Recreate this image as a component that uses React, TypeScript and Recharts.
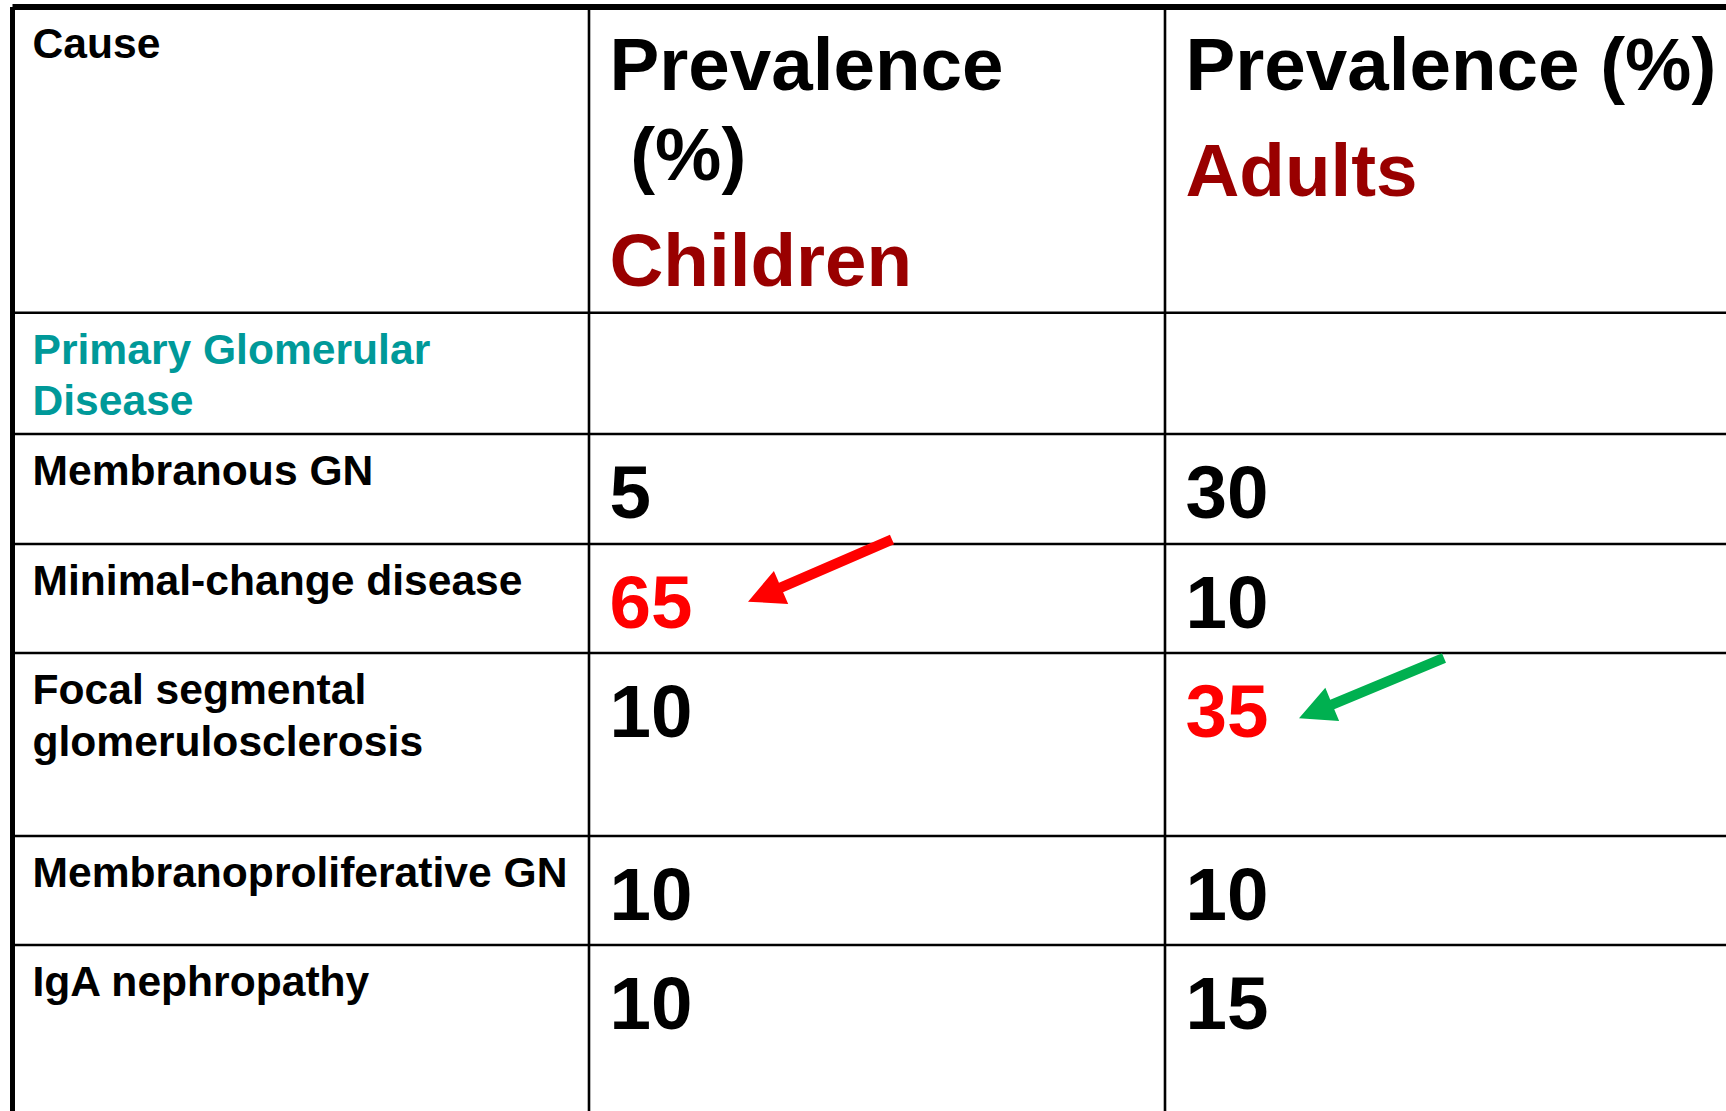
import React from 'react';
import { ScatterChart, Scatter, XAxis, YAxis, ReferenceLine } from 'recharts';

// ---------- data ----------
const causeHeader = 'Cause';
const sectionTitle = 'Primary Glomerular\nDisease';
const causes = [
  'Membranous GN',
  'Minimal-change disease',
  'Focal segmental\nglomerulosclerosis',
  'Membranoproliferative GN',
  'IgA nephropathy',
];
const groups = ['Children', 'Adults'];
const headerLines = [['Prevalence', ' (%)'], ['Prevalence (%)']];
const childrenPrevalence = [5, 65, 10, 10, 10];
const adultsPrevalence = [30, 10, 35, 10, 15];

// ---------- layout / style ----------
const W = 1726;
const H = 1111;
const LEFT = 12.5;
const TOP = 7;
const COL_W = [576.5, 576, 576];
const ROW_H = [305.7, 121.3, 110, 109, 183, 109, 170];
const FONT = "'Liberation Sans', Arial, Helvetica, sans-serif";
const BODY_SIZE = 42.6;
const BIG_SIZE = 74.6;
const GROUP_COLOR = '#990000';
const SECTION_COLOR = '#009999';
const HIGHLIGHT = '#FF0000';
const ARROWS = [
  { tail: [303, -4.6], tip: [159, 57.7], color: '#FF0000' },
  { tail: [279, 5], tip: [134, 65.3], color: '#00B050' },
];

const colLeft = COL_W.reduce<number[]>((a, w, i) => (a.push(i === 0 ? 0 : a[i - 1] + COL_W[i - 1]), a), []);
const rowTop = ROW_H.reduce<number[]>((a, h, i) => (a.push(i === 0 ? 0 : a[i - 1] + ROW_H[i - 1]), a), []);

const headerData = [
  { x: colLeft[0], y: rowTop[0], kind: 'cause' },
  { x: colLeft[1], y: rowTop[0], kind: 'group', g: 0 },
  { x: colLeft[2], y: rowTop[0], kind: 'group', g: 1 },
];
const sectionData = [{ x: colLeft[0], y: rowTop[1], text: sectionTitle }];
const causeData = causes.map((c, i) => ({ x: colLeft[0], y: rowTop[i + 2], text: c }));
const makeSeries = (vals: number[], g: number) => {
  const mx = Math.max(...vals);
  return vals.map((v, i) => ({ x: colLeft[g + 1], y: rowTop[i + 2], value: v, isMax: v === mx, g }));
};
const childData = makeSeries(childrenPrevalence, 0);
const adultData = makeSeries(adultsPrevalence, 1);

const HeaderShape = (p: any) => {
  const { cx, cy, payload } = p;
  if (payload.kind === 'cause') {
    return (
      <text x={cx + 20} y={cy + 51} fontFamily={FONT} fontWeight="bold" fontSize={BODY_SIZE} fill="#000">
        {causeHeader}
      </text>
    );
  }
  const lines = headerLines[payload.g];
  const lastBase = 83 + (lines.length - 1) * 90;
  return (
    <g>
      {lines.map((l: string, i: number) => (
        <text key={i} x={cx + 20.5} y={cy + 83 + i * 90} fontFamily={FONT} fontWeight="bold" fontSize={BIG_SIZE} fill="#000" style={{ whiteSpace: 'pre' }}>
          {l}
        </text>
      ))}
      <text x={cx + 20.5} y={cy + lastBase + 106} fontFamily={FONT} fontWeight="bold" fontSize={BIG_SIZE} fill={GROUP_COLOR}>
        {groups[payload.g]}
      </text>
    </g>
  );
};

const LabelShape = (color: string) => (p: any) => {
  const { cx, cy, payload } = p;
  const lines = String(payload.text).split('\n');
  return (
    <g>
      {lines.map((l: string, i: number) => (
        <text key={i} x={cx + 20} y={cy + 51} dy={i * 51.5} fontFamily={FONT} fontWeight="bold" fontSize={BODY_SIZE} fill={color}>
          {l}
        </text>
      ))}
    </g>
  );
};

const arrowPoints = (tx: number, ty: number, px: number, py: number) => {
  const dx = px - tx;
  const dy = py - ty;
  const len = Math.hypot(dx, dy);
  const ux = dx / len;
  const uy = dy / len;
  const nx = -uy;
  const ny = ux;
  const sw = 5.2;
  const hw = 18;
  const hl = 36;
  const bx = px - ux * hl;
  const by = py - uy * hl;
  const pts = [
    [tx + nx * sw, ty + ny * sw],
    [bx + nx * sw, by + ny * sw],
    [bx + nx * hw, by + ny * hw],
    [px, py],
    [bx - nx * hw, by - ny * hw],
    [bx - nx * sw, by - ny * sw],
    [tx - nx * sw, ty - ny * sw],
  ];
  return pts.map((q) => q.join(',')).join(' ');
};

const ValueShape = (p: any) => {
  const { cx, cy, payload } = p;
  const a = ARROWS[payload.g];
  return (
    <g>
      <text x={cx + 20.5} y={cy + 84} fontFamily={FONT} fontWeight="bold" fontSize={BIG_SIZE} fill={payload.isMax ? HIGHLIGHT : '#000'}>
        {payload.value}
      </text>
      {payload.isMax && (
        <polygon points={arrowPoints(cx + a.tail[0], cy + a.tail[1], cx + a.tip[0], cy + a.tip[1])} fill={a.color} />
      )}
    </g>
  );
};

export default function App() {
  return (
    <div style={{ position: 'absolute', left: 0, top: 0, width: W, height: H, background: '#fff' }}>
      <ScatterChart width={W} height={H} margin={{ top: TOP, left: LEFT, right: 0, bottom: 0 }}>
        <XAxis type="number" dataKey="x" domain={[0, W - LEFT]} hide allowDataOverflow />
        <YAxis type="number" dataKey="y" domain={[0, H - TOP]} reversed hide allowDataOverflow />
        {rowTop.slice(1).map((y, i) => (
          <ReferenceLine key={'r' + i} y={y} stroke="#000" strokeWidth={2.6} />
        ))}
        {colLeft.slice(1).map((x, i) => (
          <ReferenceLine key={'c' + i} x={x} stroke="#000" strokeWidth={2.6} />
        ))}
        <ReferenceLine y={0} stroke="#000" strokeWidth={6} />
        <ReferenceLine x={0} stroke="#000" strokeWidth={5} />
        <Scatter data={headerData} shape={HeaderShape} isAnimationActive={false} />
        <Scatter data={sectionData} shape={LabelShape(SECTION_COLOR)} isAnimationActive={false} />
        <Scatter data={causeData} shape={LabelShape('#000')} isAnimationActive={false} />
        <Scatter data={childData} shape={ValueShape} isAnimationActive={false} />
        <Scatter data={adultData} shape={ValueShape} isAnimationActive={false} />
      </ScatterChart>
    </div>
  );
}
